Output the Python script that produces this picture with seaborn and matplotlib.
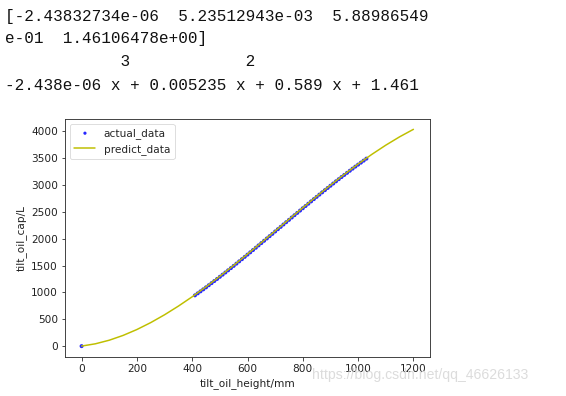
import matplotlib
matplotlib.use("Agg")
import matplotlib.pyplot as plt
import seaborn as sns
import pandas as pd

# ---- data ----
actual_x = [0, 410, 420, 430, 440, 450, 460, 470, 480, 490, 500, 510, 520, 530, 540,
            550, 560, 570, 580, 590, 600, 610, 620, 630, 640, 650, 660, 670, 680, 690,
            700, 710, 720, 730, 740, 750, 760, 770, 780, 790, 800, 810, 820, 830, 840,
            850, 860, 870, 880, 890, 900, 910, 920, 930, 940, 950, 960, 970, 980, 990,
            1000, 1010, 1020, 1030]
actual_y = [0, 945, 982, 1019, 1056, 1094, 1133, 1172, 1211, 1250, 1290, 1330, 1370, 1411, 1452,
            1493, 1535, 1577, 1618, 1661, 1703, 1745, 1788, 1831, 1874, 1917, 1960, 2003, 2046, 2089,
            2133, 2176, 2219, 2263, 2306, 2349, 2393, 2436, 2479, 2522, 2565, 2607, 2650, 2693, 2735,
            2777, 2819, 2861, 2902, 2943, 2984, 3025, 3066, 3106, 3146, 3185, 3224, 3263, 3302, 3340,
            3377, 3414, 3451, 3488]
pred_x = [0, 50, 100, 150, 200, 250, 300, 350, 400, 450, 500, 550, 600, 650, 700, 750,
          800, 850, 900, 950, 1000, 1050, 1100, 1150, 1200]
pred_y = [1.46, 43.69, 110.27, 199.37, 309.16, 437.80, 583.48, 744.37, 918.62, 1104.43,
          1299.95, 1503.35, 1712.82, 1926.52, 2142.62, 2359.29, 2574.71, 2787.05, 2994.47,
          3195.14, 3387.25, 3568.96, 3738.45, 3893.86, 4033.40]
x_ticks = [0, 200, 400, 600, 800, 1000, 1200]
y_ticks = [0, 500, 1000, 1500, 2000, 2500, 3000, 3500, 4000]

text_lines = [
    "[-2.43832734e-06  5.23512943e-03  5.88986549",
    "e-01  1.46106478e+00]",
    "            3            2",
    "-2.438e-06 x + 0.005235 x + 0.589 x + 1.461",
]
watermark = "https://blog.csdn.net/qq_46626133"

sns.set_style("ticks")
plt.rcParams["font.family"] = ["DejaVu Sans"]
plt.rcParams["axes.edgecolor"] = "black"
plt.rcParams["xtick.color"] = "black"
plt.rcParams["ytick.color"] = "black"

FS = 10.5
DPI = 72
fig = plt.figure(figsize=(566 / DPI, 396 / DPI), dpi=DPI)
ax = fig.add_axes([65 / 566, 1 - 357 / 396, (430 - 65) / 566, (357 - 118.5) / 396])

df_a = pd.DataFrame({"x": actual_x, "y": actual_y})
df_p = pd.DataFrame({"x": pred_x, "y": pred_y})

sns.scatterplot(data=df_a, x="x", y="y", ax=ax, color="blue", marker="o", s=16,
                edgecolor="none", linewidth=0, alpha=0.85, label="actual_data", zorder=2)
sns.lineplot(data=df_p, x="x", y="y", ax=ax, color=(0.75, 0.75, 0.0), linewidth=1.5,
             label="predict_data", zorder=3, sort=False, estimator=None)

ax.set_xticks(x_ticks)
ax.set_yticks(y_ticks)
ax.set_xlim(-60, 1260)
ax.set_ylim(-202, 4235)
ax.tick_params(labelsize=FS, length=3.5, width=0.8, direction="out", colors="#222222")
for s in ax.spines.values():
    s.set_visible(True)
    s.set_linewidth(0.9)
    s.set_color("#333333")
ax.set_xlabel("tilt_oil_height/mm", fontsize=FS, color="#222222")
ax.set_ylabel("tilt_oil_cap/L", fontsize=FS, color="#222222")
leg = ax.legend(loc="upper left", fontsize=FS, frameon=True, fancybox=True,
                framealpha=0.8, edgecolor="0.8", markerscale=0.8)
leg.get_frame().set_linewidth(0.8)

ys = [17, 39, 62, 85]
for t, yp in zip(text_lines, ys):
    fig.text(5 / 566, 1 - yp / 396, t, fontsize=16, family="Liberation Mono",
             va="center", ha="left", color="#111111")

fig.text(312 / 566, 1 - 375 / 396, watermark, fontsize=14, family="Liberation Sans",
         va="center", ha="left", color="#dcdcdc")

fig.savefig("out.png", dpi=DPI, facecolor="white")
